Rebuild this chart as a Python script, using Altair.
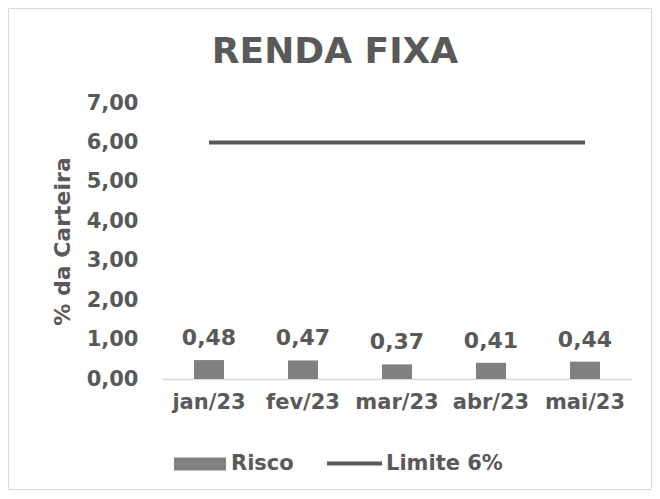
import altair as alt
import pandas as pd

months = ["jan/23", "fev/23", "mar/23", "abr/23", "mai/23"]
risco = [0.48, 0.47, 0.37, 0.41, 0.44]
limite = [6.0, 6.0, 6.0, 6.0, 6.0]
y_ticks = [0, 1, 2, 3, 4, 5, 6, 7]

FONT = "DejaVu Sans"
TXT = "#595959"

df = pd.DataFrame({"mes": months, "risco": risco, "limite": limite})
df["lab"] = [f"{v:.2f}".replace(".", ",") for v in risco]
df["serie_r"] = "Risco"
df["serie_l"] = "Limite 6%"

x = alt.X(
    "mes:N",
    sort=months,
    scale=alt.Scale(paddingInner=0, paddingOuter=0),
    axis=alt.Axis(
        title=None, labelAngle=0, ticks=False, domainColor="#d9d9d9", domainWidth=1.5,
        labelPadding=12, labelFontSize=21, labelFont=FONT, labelFontWeight="bold",
        labelColor=TXT,
    ),
)

yaxis = alt.Axis(
    values=y_ticks, tickCount=8, grid=False, domain=False, ticks=False, labelPadding=24,
    labelOverlap=False,
    labelExpr="replace(format(datum.value, '.2f'), '.', ',')",
    labelFontSize=21, labelFont=FONT, labelFontWeight="bold", labelColor=TXT,
    title="% da Carteira", titleFontSize=22, titleFont=FONT, titleFontWeight="bold",
    titleColor=TXT, titlePadding=12,
)
yscale = alt.Scale(domain=[0, 7], nice=False)

base = alt.Chart(df)

border = alt.Chart(pd.DataFrame({"a": [0]})).mark_rect(
    fill="transparent", stroke="#d9d9d9", strokeWidth=1
).encode(
    x=alt.value(-153.5), x2=alt.value(489.5), y=alt.value(-94.5), y2=alt.value(386.5)
)

bars = base.mark_bar(size=30).encode(
    x=x,
    y=alt.Y("risco:Q", scale=yscale, axis=yaxis, title="% da Carteira"),
    fill=alt.Fill(
        "serie_r:N",
        scale=alt.Scale(range=["#808080"]),
        legend=alt.Legend(
            title=None, orient="none", legendX=12, legendY=335,
            symbolType="M-1,-0.25L1,-0.25L1,0.25L-1,0.25Z", symbolSize=2704,
            symbolStrokeWidth=0, labelFontSize=21, labelFont=FONT,
            labelFontWeight="bold", labelColor=TXT, labelOffset=5,
        ),
    ),
)

labels = base.mark_text(
    dy=-15, baseline="alphabetic", fontSize=22, font=FONT, fontWeight="bold", color=TXT
).encode(x=x, y=alt.Y("risco:Q", scale=yscale, axis=yaxis, title="% da Carteira"), text="lab:N")

line = base.mark_line(strokeWidth=4).encode(
    x=x,
    y=alt.Y("limite:Q", scale=yscale, axis=yaxis, title="% da Carteira"),
    stroke=alt.Stroke(
        "serie_l:N",
        scale=alt.Scale(range=["#595959"]),
        legend=alt.Legend(
            title=None, orient="none", legendX=163, legendY=331,
            symbolType="stroke", symbolSize=3025, symbolStrokeWidth=4,
            labelFontSize=21, labelFont=FONT, labelFontWeight="bold",
            labelColor=TXT, labelOffset=2,
        ),
    ),
)

chart = alt.layer(border, bars, labels, line).properties(
    width=470,
    height=276,
    title=alt.Title(
        "RENDA FIXA", fontSize=36, font=FONT, fontWeight="bold", color=TXT,
        anchor="middle", dx=-62, offset=0, baseline="alphabetic", dy=91,
    ),
    autosize=alt.AutoSizeParams(type="none"),
    padding={"left": 154, "top": 95, "right": 20, "bottom": 111},
).configure_view(strokeWidth=0)

chart.save("out.html", embed_options={"renderer": "svg", "actions": False})
